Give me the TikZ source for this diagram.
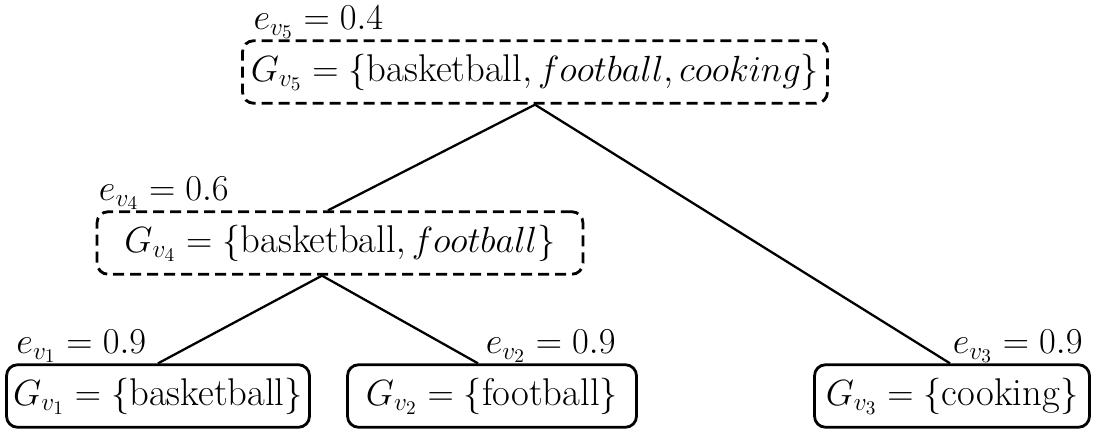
\documentclass[tikz,border=0pt]{standalone}
\usepackage{amsmath}
\usetikzlibrary{positioning}
\tikzset{
  group/.style={draw=black, line width=1.6pt, rounded corners=0.22cm,
    minimum height=1.25cm, inner sep=0pt, font=\fontsize{22}{26}\selectfont},
  merged/.style={group, dash pattern=on 0.22cm off 0.12cm},
  leaf/.style={group},
  score/.style={inner sep=0pt, font=\fontsize{22}{26}\selectfont},
  edge/.style={draw=black, line width=1.3pt}
}
\begin{document}
\begin{tikzpicture}[x=0.02cm,y=-0.02cm]
      \useasboundingbox (0,0) rectangle (1101,435);
      % groups
      \node[merged, minimum width=11.7cm ] (g5) at (535,72)  {$G_{v_5}=\{\text{basketball}, football, cooking\}$};
      \node[merged, minimum width=9.72cm ] (g4) at (340,243) {$G_{v_4}=\{\text{basketball}, football\}$};
      \node[leaf,   minimum width=6.06cm ] (g1) at (158,396) {$G_{v_1}=\{\text{basketball}\}$};
      \node[leaf,   minimum width=5.78cm ] (g2) at (492,396) {$G_{v_2}=\{\text{football}\}$};
      \node[leaf,   minimum width=5.5cm  ] (g3) at (952,396) {$G_{v_3}=\{\text{cooking}\}$};
      % scores
      \node[score, anchor=south west] (e5) at ([xshift=0.24cm]g5.north west) {$e_{v_5}=0.4$};
      \node[score, anchor=south west] (e4) at ([xshift=0.06cm]g4.north west) {$e_{v_4}=0.6$};
      \node[score, anchor=south west] (e1) at ([xshift=0.22cm]g1.north west) {$e_{v_1}=0.9$};
      \node[score, anchor=south east] (e2) at ([xshift=-0.44cm]g2.north east) {$e_{v_2}=0.9$};
      \node[score, anchor=south east] (e3) at ([xshift=-0.16cm]g3.north east) {$e_{v_3}=0.9$};
      % tree
      \draw[edge] (g5.south) -- ([xshift=-0.24cm]g4.north);
      \draw[edge] (g5.south) -- ([xshift=-0.04cm]g3.north);
      \draw[edge] ([xshift=-0.36cm]g4.south) -- (g1.north);
      \draw[edge] ([xshift=-0.36cm]g4.south) -- ([xshift=-0.28cm]g2.north);
\end{tikzpicture}
\end{document}
